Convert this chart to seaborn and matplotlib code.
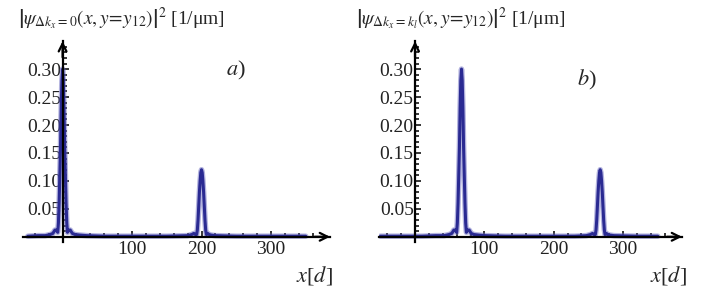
import matplotlib
matplotlib.use("Agg")
import matplotlib.pyplot as plt
import seaborn as sns
import pandas as pd

# values
xa = [-50, -35, -25, -18, -14, -11, -9, -7, -6, -5, -4, -3, -2, -1, 0, 1, 2, 3, 4, 5, 6, 7,
      9, 11, 14, 18, 25, 35, 60, 100, 150, 180, 186, 189, 191, 193, 194, 195, 196, 197, 198,
      199, 200, 201, 202, 203, 204, 205, 206, 207, 209, 211, 214, 220, 250, 300, 350]
ya = [0.001, 0.002, 0.002, 0.004, 0.006, 0.012, 0.012, 0.008, 0.025, 0.06, 0.11, 0.16, 0.23,
      0.28, 0.30, 0.28, 0.23, 0.16, 0.11, 0.06, 0.025, 0.008,
      0.012, 0.012, 0.006, 0.004, 0.003, 0.002, 0.001, 0.001, 0.001, 0.002, 0.004, 0.006,
      0.004, 0.004, 0.012, 0.03, 0.055, 0.08, 0.10, 0.115, 0.12, 0.115, 0.10, 0.08, 0.055,
      0.03, 0.012, 0.004, 0.006, 0.004, 0.003, 0.002, 0.001, 0.001, 0.001]

xb = [-50, -20, 10, 30, 42, 49, 53, 56, 58, 60, 61, 62, 63, 64, 65, 66, 67, 68, 69, 70, 71,
      72, 73, 74, 76, 78, 81, 85, 92, 102, 130, 180, 230, 247, 253, 256, 258, 260, 261, 262,
      263, 264, 265, 266, 267, 268, 269, 270, 271, 272, 273, 274, 276, 278, 281, 287, 320, 350]
yb = [0.001, 0.001, 0.001, 0.002, 0.002, 0.004, 0.006, 0.012, 0.012, 0.008, 0.025, 0.06,
      0.11, 0.16, 0.23, 0.28, 0.30, 0.28, 0.23, 0.16, 0.11, 0.06, 0.025, 0.008,
      0.012, 0.012, 0.006, 0.004, 0.003, 0.002, 0.001, 0.001, 0.001, 0.002, 0.004, 0.006,
      0.004, 0.004, 0.012, 0.03, 0.055, 0.08, 0.10, 0.115, 0.12, 0.115, 0.10, 0.08, 0.055,
      0.03, 0.012, 0.004, 0.006, 0.004, 0.003, 0.002, 0.001, 0.001]

yticks = [0.05, 0.10, 0.15, 0.20, 0.25, 0.30]
ytick_labels = ["0.05", "0.10", "0.15", "0.20", "0.25", "0.30"]
xticks = [100, 200, 300]
xtick_labels = ["100", "200", "300"]

sns.set_style("white")
plt.rcParams['font.family'] = ['Liberation Serif', 'DejaVu Serif']
plt.rcParams['mathtext.fontset'] = 'stix'

fig = plt.figure(figsize=(7.08, 2.92), dpi=100)
ax1 = fig.add_axes([0.0325, 0.170, 0.4336, 0.689])
ax2 = fig.add_axes([0.5353, 0.170, 0.428, 0.689])

panels = [(ax1, xa, ya, (-57, 385), "$a$)", (0.333, 0.76)),
          (ax2, xb, yb, (-52, 385), "$b$)", (0.829, 0.726))]

for ax, xs, ys, xl, lab, pos in panels:
    df = pd.DataFrame({'x': xs, 'y': ys})
    # soft halo + core line, like the antialiased original
    sns.lineplot(data=df, x='x', y='y', ax=ax, color='#6a6ac0', lw=4, alpha=0.5)
    sns.lineplot(data=df, x='x', y='y', ax=ax, color='#2a2a92', lw=2.2)
    ax.set_xlim(*xl)
    ax.set_ylim(-0.01, 0.35)
    for s in ['top', 'right']:
        ax.spines[s].set_visible(False)
    for s in ['left', 'bottom']:
        ax.spines[s].set_position(('data', 0))
        ax.spines[s].set_linewidth(1.6)
        ax.spines[s].set_color('black')
    # open arrowheads at the ends of the axes
    ax.annotate('', xy=(1, 0), xycoords=('axes fraction', 'data'),
                xytext=(0.95, 0), textcoords=('axes fraction', 'data'),
                arrowprops=dict(arrowstyle='->', lw=1.6, color='black',
                                shrinkA=0, shrinkB=0, mutation_scale=14))
    ax.annotate('', xy=(0, 1), xycoords=('data', 'axes fraction'),
                xytext=(0, 0.92), textcoords=('data', 'axes fraction'),
                arrowprops=dict(arrowstyle='->', lw=1.6, color='black',
                                shrinkA=0, shrinkB=0, mutation_scale=14))
    ax.set_xticks(xticks)
    ax.set_xticklabels(xtick_labels)
    ax.set_xticks([-40, -20, 20, 40, 60, 80, 120, 140, 160, 180, 220, 240, 260, 280, 320, 340, 360], minor=True)
    ax.set_yticks(yticks)
    ax.set_yticklabels(ytick_labels)
    ax.set_yticks([0.01 * i for i in range(1, 35) if i % 5], minor=True)
    ax.tick_params(axis='both', which='both', direction='in', color='black', width=1.1,
                   bottom=True, left=True)
    ax.tick_params(axis='both', which='major', length=4.5, labelsize=14)
    ax.tick_params(axis='both', which='minor', length=3)
    ax.tick_params(axis='x', pad=3)
    ax.tick_params(axis='y', pad=1)
    for t in ax.get_yticklabels() + ax.get_xticklabels():
        t.set_color('#222222')
    ax.set_xlabel('')
    ax.set_ylabel('')
    fig.text(pos[0], pos[1], lab, fontsize=16, ha='center', va='center')

fig.text(0.025, 0.935, r'$\left|\psi_{\Delta k_x=0}(x,y\!=\!y_{12})\right|^2$ [1/μm]', fontsize=14, va='center')
fig.text(0.503, 0.935, r'$\left|\psi_{\Delta k_x=k_l}(x,y\!=\!y_{12})\right|^2$ [1/μm]', fontsize=14, va='center')
fig.text(0.470, 0.058, r'$x$[$d$]', fontsize=16, ha='right', va='center')
fig.text(0.970, 0.058, r'$x$[$d$]', fontsize=16, ha='right', va='center')

fig.savefig('out.png', dpi=100)
